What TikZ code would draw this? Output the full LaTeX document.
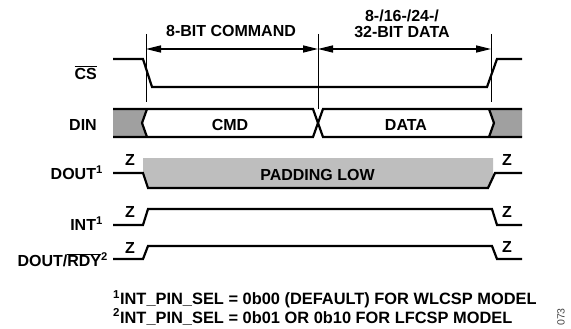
\documentclass[tikz,border=0pt]{standalone}
\usepackage{fontspec}
\setmainfont{Liberation Sans}
\usetikzlibrary{arrows.meta}
\definecolor{busgray}{HTML}{A0A0A0}
\definecolor{padgray}{HTML}{BEBEBE}
\definecolor{notegray}{HTML}{444444}
\newcommand{\ovl}[1]{$\overline{\mbox{#1}}$}

\begin{document}
\begin{tikzpicture}[x=1pt,y=-1pt,
  font=\fontsize{16}{16}\selectfont\bfseries,
  sig/.style={line width=2.2pt,line join=miter},
  marker/.style={line width=0.9pt},
  dim/.style={{Triangle[length=15pt,width=7pt]}-{Triangle[length=15pt,width=7pt]},line width=1.3pt},
  lbl/.style={anchor=east,inner sep=0pt},
  zed/.style={inner sep=0pt},
  note/.style={anchor=north west,inner sep=0pt,align=left,font=\fontsize{16.4}{17}\selectfont\bfseries},
]
\useasboundingbox (0,0) rectangle (571,329);
% timing markers
\coordinate (m1t) at (146,34);  \coordinate (m1b) at (146,102);
\coordinate (m2t) at (318,34);  \coordinate (m2b) at (318,109);
\coordinate (m3t) at (491,34);  \coordinate (m3b) at (491,102);
\draw[marker] (m1t) -- (m1b);
\draw[marker] (m2t) -- (m2b);
\draw[marker] (m3t) -- (m3b);
\coordinate (a1) at (146,49);
\coordinate (a2) at (318,49);
\coordinate (a3) at (491,49);
\draw[dim] (a1) -- (a2);
\draw[dim] (a2) -- (a3);
\node[zed] (tcmd) at (231,31) {8-BIT COMMAND};
\node[zed,align=center,font=\fontsize{16}{16.5}\selectfont\bfseries] (tdata) at (402,24) {8-/16-/24-/\\32-BIT DATA};
% CS
\node[lbl] (lcs) at (97,72.5) {\ovl{CS}};
\draw[sig] (113,59) -- (143,59) -- (152,87) -- (487,87) -- (497,59) -- (522,59);
% DIN
\node[lbl] (ldin) at (97,125) {DIN};
\fill[busgray] (113,109) -- (147,109) -- (142,123) -- (147,137) -- (113,137) -- cycle;
\fill[busgray] (489,109) -- (494,123) -- (489,137) -- (522,137) -- (522,109) -- cycle;
\draw[sig] (113,109) -- (313,109) -- (323,137) -- (522,137);
\draw[sig] (113,137) -- (313,137) -- (323,109) -- (522,109);
\draw[sig] (147,109) -- (142,123) -- (147,137);
\draw[sig] (489,109) -- (494,123) -- (489,137);
\node[zed] (cmd) at (230,125) {CMD};
\node[zed] (data) at (406,125) {DATA};
% DOUT
\node[lbl] (ldout) at (103,172.5) {DOUT\textsuperscript{1}};
\fill[padgray] (143,158) -- (493,158) -- (493,176) -- (488,188) -- (148,188) -- (143,173) -- cycle;
\draw[sig] (113,173) -- (143,173) -- (148,188) -- (488,188) -- (495,173) -- (522,173);
\node[zed] (pad) at (317.5,175) {PADDING LOW};
\node[zed] (z1) at (130,160) {Z};
\node[zed] (z2) at (507,160) {Z};
% INT
\node[lbl] (lint) at (103,224) {INT\textsuperscript{1}};
\draw[sig] (113,225) -- (143,225) -- (148,209) -- (492,209) -- (497,225) -- (522,225);
\node[zed] (z3) at (130,212) {Z};
\node[zed] (z4) at (507,212) {Z};
% DOUT/RDY
\node[lbl] (lrdy) at (108,260) {DOUT/\ovl{RDY}\textsuperscript{2}};
\draw[sig] (113,259) -- (143,259) -- (148,246) -- (492,246) -- (497,259) -- (522,259);
\node[zed] (z5) at (130,248) {Z};
\node[zed] (z6) at (507,247) {Z};
% notes
\node[note] (notes) at (113,290) {\textsuperscript{1}INT\_PIN\_SEL = 0b00 (DEFAULT) FOR WLCSP MODEL\\
\textsuperscript{2}INT\_PIN\_SEL = 0b01 OR 0b10 FOR LFCSP MODEL};
\node[zed,rotate=90,text=notegray,font=\fontsize{10.5}{10.5}\selectfont] (fig) at (561,317) {073};
\end{tikzpicture}
\end{document}
